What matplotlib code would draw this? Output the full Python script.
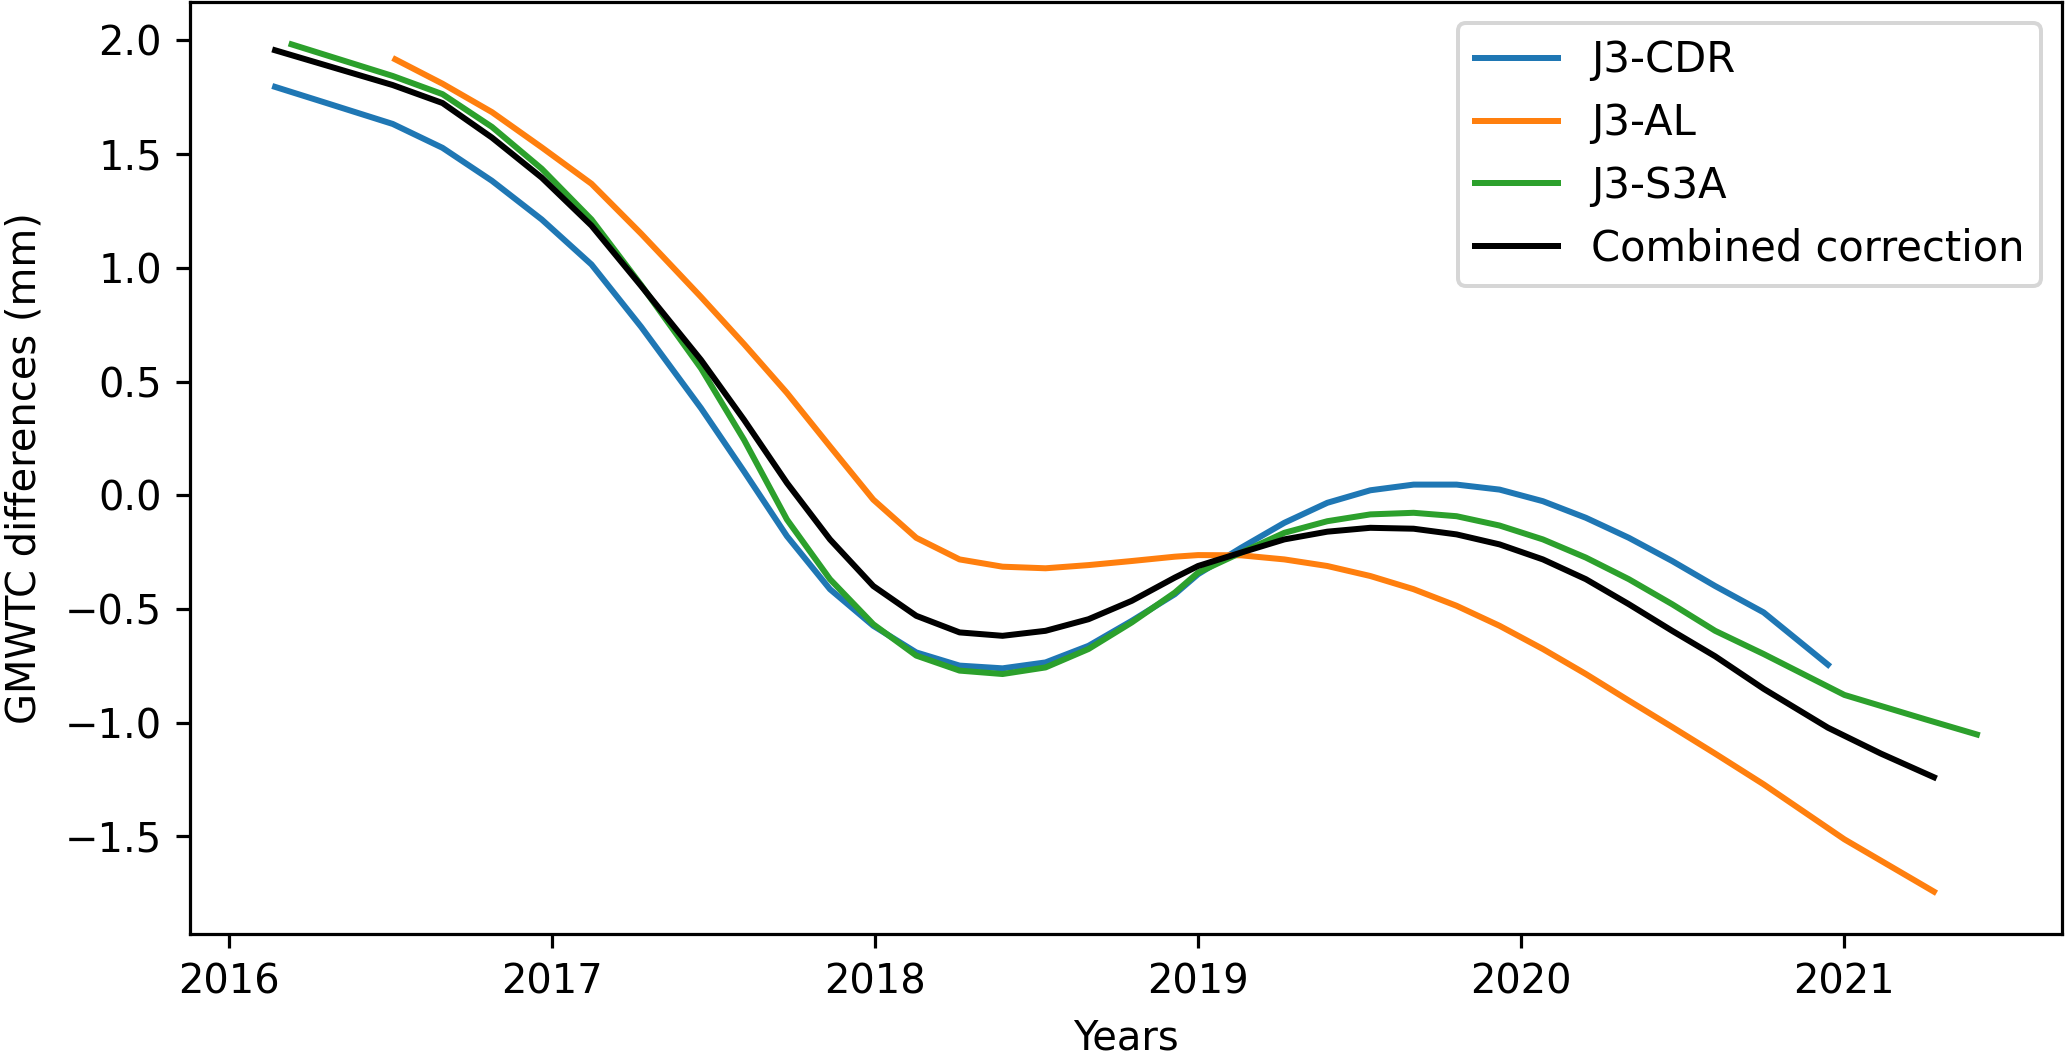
import matplotlib
matplotlib.use("Agg")
import matplotlib.pyplot as plt

# J3-CDR
cdr_x = [2016.144, 2016.303, 2016.508, 2016.662, 2016.815, 2016.969, 2017.123, 2017.277,
         2017.462, 2017.595, 2017.728, 2017.861, 2017.995, 2018.128, 2018.262, 2018.395,
         2018.528, 2018.661, 2018.795, 2018.928, 2019.0, 2019.133, 2019.267, 2019.4,
         2019.533, 2019.667, 2019.8, 2019.933, 2020.067, 2020.2, 2020.333, 2020.467,
         2020.6, 2020.75, 2020.949]
cdr_y = [1.796, 1.725, 1.633, 1.528, 1.383, 1.213, 1.015, 0.740,
         0.383, 0.105, -0.180, -0.413, -0.574, -0.691, -0.749, -0.761,
         -0.735, -0.662, -0.552, -0.435, -0.347, -0.231, -0.121, -0.033,
         0.022, 0.047, 0.047, 0.025, -0.026, -0.099, -0.187, -0.289,
         -0.399, -0.515, -0.745]

# J3-AL
al_x = [2016.516, 2016.662, 2016.815, 2016.969, 2017.123, 2017.277,
        2017.462, 2017.595, 2017.728, 2017.861, 2017.995, 2018.128, 2018.262, 2018.395,
        2018.528, 2018.661, 2018.795, 2018.928, 2019.0, 2019.133, 2019.267, 2019.4,
        2019.533, 2019.667, 2019.8, 2019.933, 2020.067, 2020.2, 2020.333, 2020.467,
        2020.6, 2020.75, 2021.0, 2021.277]
al_y = [1.917, 1.810, 1.685, 1.530, 1.370, 1.150,
        0.872, 0.665, 0.450, 0.215, -0.019, -0.187, -0.282, -0.314,
        -0.321, -0.307, -0.289, -0.270, -0.263, -0.264, -0.282, -0.311,
        -0.355, -0.413, -0.486, -0.574, -0.676, -0.786, -0.903, -1.019,
        -1.136, -1.271, -1.513, -1.743]

# J3-S3A
s3a_x = [2016.195, 2016.508, 2016.662, 2016.815, 2016.969, 2017.123, 2017.277,
         2017.462, 2017.595, 2017.728, 2017.861, 2017.995, 2018.128, 2018.262, 2018.395,
         2018.528, 2018.661, 2018.795, 2018.928, 2019.0, 2019.133, 2019.267, 2019.4,
         2019.533, 2019.667, 2019.8, 2019.933, 2020.067, 2020.2, 2020.333, 2020.467,
         2020.6, 2020.75, 2021.0, 2021.25, 2021.41]
s3a_y = [1.983, 1.844, 1.764, 1.620, 1.436, 1.213, 0.924,
         0.558, 0.244, -0.107, -0.369, -0.567, -0.705, -0.771, -0.786,
         -0.757, -0.676, -0.559, -0.428, -0.340, -0.252, -0.165, -0.114,
         -0.084, -0.077, -0.092, -0.133, -0.194, -0.274, -0.369, -0.479,
         -0.596, -0.698, -0.878, -0.985, -1.052]

# Combined correction
comb_x = [2016.144, 2016.508, 2016.662, 2016.815, 2016.969, 2017.123, 2017.277,
          2017.462, 2017.595, 2017.728, 2017.861, 2017.995, 2018.128, 2018.262, 2018.395,
          2018.528, 2018.661, 2018.795, 2018.928, 2019.0, 2019.133, 2019.267, 2019.4,
          2019.533, 2019.667, 2019.8, 2019.933, 2020.067, 2020.2, 2020.333, 2020.467,
          2020.6, 2020.75, 2020.949, 2021.113, 2021.277]
comb_y = [1.957, 1.804, 1.725, 1.573, 1.397, 1.186, 0.920,
          0.595, 0.332, 0.054, -0.194, -0.399, -0.530, -0.603, -0.618,
          -0.596, -0.545, -0.464, -0.362, -0.311, -0.252, -0.194, -0.160,
          -0.143, -0.147, -0.172, -0.216, -0.282, -0.369, -0.479, -0.596,
          -0.708, -0.851, -1.022, -1.136, -1.240]

DPI = 288
W, H = 2068, 1055
fig = plt.figure(figsize=(W / DPI, H / DPI), dpi=DPI)
ax = fig.add_axes([190 / W, 121 / H, (2062 - 190) / W, (934 - 2) / H])

ax.plot(cdr_x, cdr_y, color="#1f77b4", lw=1.5, label="J3-CDR")
ax.plot(al_x, al_y, color="#ff7f0e", lw=1.5, label="J3-AL")
ax.plot(s3a_x, s3a_y, color="#2ca02c", lw=1.5, label="J3-S3A")
ax.plot(comb_x, comb_y, color="black", lw=1.5, label="Combined correction")

ax.set_xticks([2016, 2017, 2018, 2019, 2020, 2021])
ax.set_xticklabels(["2016", "2017", "2018", "2019", "2020", "2021"])
ax.set_xlabel("Years")
ax.set_ylabel("GMWTC differences (mm)", labelpad=5)
ax.legend(loc="upper right", fontsize=10.4, labelspacing=0.5)

fig.savefig("out.png", dpi=DPI)
